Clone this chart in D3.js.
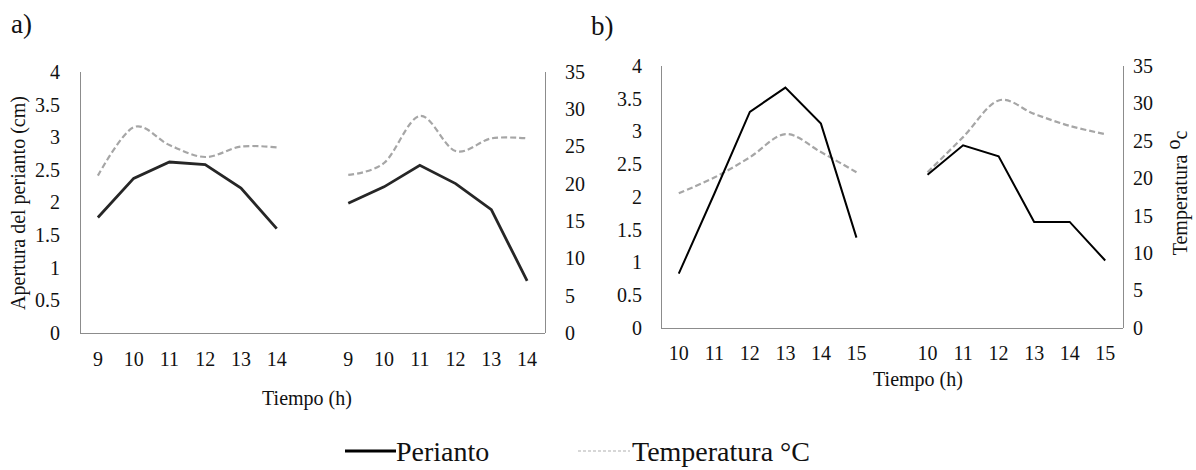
<!DOCTYPE html>
<html>
<head>
<meta charset="utf-8">
<script src="https://cdn.jsdelivr.net/npm/d3@7"></script>
</head>
<body style="margin:0; background:#fff">
<svg id="chart" width="1196" height="470"></svg>
<script>
// categories: two groups of hours separated by an empty slot
var hoursA = ['9', '10', '11', '12', '13', '14', '', '9b', '10b', '11b', '12b', '13b', '14b']
var hoursB = ['10', '11', '12', '13', '14', '15', '', '10b', '11b', '12b', '13b', '14b', '15b']

// panel a
var periantoA1 = [1.77, 2.37, 2.62, 2.58, 2.22, 1.60]
var periantoA2 = [1.99, 2.24, 2.57, 2.29, 1.89, 0.80]
var tempA1 = [21.1, 27.6, 25.2, 23.6, 25.0, 24.9]
var tempA2 = [21.2, 22.8, 29.1, 24.4, 26.1, 26.1]

// panel b
var periantoB1 = [0.83, 2.05, 3.30, 3.67, 3.12, 1.38]
var periantoB2 = [2.34, 2.79, 2.62, 1.62, 1.62, 1.03]
var tempB1 = [18.0, 20.1, 22.8, 25.9, 23.5, 20.8]
var tempB2 = [20.8, 25.5, 30.4, 28.6, 27.0, 25.9]

var leftTicks = [0, 0.5, 1, 1.5, 2, 2.5, 3, 3.5, 4]
var rightTicks = [0, 5, 10, 15, 20, 25, 30, 35]

var FONT = "'Liberation Serif'"
var svg = d3.select('#chart')

function styleAxis(s) {
    s.attr('font-family', FONT).attr('font-size', 20)
    s.select('.domain').attr('stroke', '#8c8c8c')
    s.selectAll('.tick line').remove()
    s.selectAll('.tick text').attr('fill', '#111').attr('font-family', FONT)
}

function addText(parent, x, y, size, str) {
    return parent.append('text')
        .attr('x', x)
        .attr('y', y)
        .attr('font-family', FONT)
        .attr('font-size', size)
        .attr('fill', '#111')
        .text(str)
}

function drawPanel(opt) {
    var x = d3.scaleBand().domain(opt.cats).range([opt.x0, opt.x1])
    var yL = d3.scaleLinear().domain([0, 4]).range([opt.yBottom, opt.yTop])
    var yR = d3.scaleLinear().domain([0, 35]).range([opt.yBottom, opt.yTop])
    var g = svg.append('g')

    // left axis
    g.append('g')
        .attr('transform', 'translate(' + opt.x0 + ',0)')
        .call(d3.axisLeft(yL).tickValues(leftTicks).tickSize(0).tickPadding(opt.padL).tickFormat(d3.format('')))
        .call(s => s.select('.domain').attr('d', 'M0.5,' + opt.yTop + 'V' + opt.yBottom))
        .call(styleAxis)

    // right axis
    g.append('g')
        .attr('transform', 'translate(' + opt.x1 + ',0)')
        .call(d3.axisRight(yR).tickValues(rightTicks).tickSize(0).tickPadding(opt.padR))
        .call(s => s.select('.domain').attr('d', 'M0.5,' + opt.yTop + 'V' + opt.yBottom))
        .call(styleAxis)

    // bottom axis
    g.append('g')
        .attr('transform', 'translate(0,' + opt.yBottom + ')')
        .call(d3.axisBottom(x).tickSize(0).tickPadding(opt.padB).tickFormat(d => d.replace('b', '')))
        .call(s => s.select('.domain').attr('d', 'M' + opt.x0 + ',0.5H' + opt.x1))
        .call(styleAxis)

    var xc = function(c) { return x(c) + x.bandwidth() / 2 }
    var groups = [opt.cats.slice(0, 6), opt.cats.slice(7)]

    var tempLine = d3.line()
        .x(d => xc(d.c))
        .y(d => yR(d.v))
        .curve(d3.curveCatmullRom.alpha(0))
    var perLine = d3.line()
        .x(d => xc(d.c))
        .y(d => yL(d.v))

    opt.temp.forEach(function(vals, k) {
        g.append('path')
            .datum(vals.map((v, i) => ({c: groups[k][i], v: v})))
            .attr('fill', 'none')
            .attr('stroke', '#a6a6a6')
            .attr('stroke-width', 2.2)
            .attr('stroke-dasharray', '6,3')
            .attr('d', tempLine)
    })
    opt.per.forEach(function(vals, k) {
        g.append('path')
            .datum(vals.map((v, i) => ({c: groups[k][i], v: v})))
            .attr('fill', 'none')
            .attr('stroke', opt.perColor)
            .attr('stroke-width', opt.perWidth)
            .attr('d', perLine)
    })

    addText(g, opt.labelX, opt.labelY, 27, opt.label)
    addText(g, opt.tiempoX, opt.tiempoY, 20, 'Tiempo (h)').attr('text-anchor', 'middle')
}

drawPanel({
    cats: hoursA, x0: 80, x1: 545, yTop: 72, yBottom: 333,
    padL: 20, padR: 20, padB: 19,
    per: [periantoA1, periantoA2], temp: [tempA1, tempA2],
    perColor: '#262626', perWidth: 2.8,
    label: 'a)', labelX: 11, labelY: 33, tiempoX: 307, tiempoY: 405
})
drawPanel({
    cats: hoursB, x0: 661, x1: 1123, yTop: 66, yBottom: 328,
    padL: 19, padR: 10, padB: 18,
    per: [periantoB1, periantoB2], temp: [tempB1, tempB2],
    perColor: '#000', perWidth: 2,
    label: 'b)', labelX: 591, labelY: 35, tiempoX: 918, tiempoY: 386
})

// y axis titles
addText(svg, 0, 0, 20, 'Apertura del perianto (cm)')
    .attr('transform', 'translate(25,203) rotate(-90)')
    .attr('text-anchor', 'middle')
var tt = addText(svg, 0, 0, 20, null)
    .attr('transform', 'translate(1187,193) rotate(-90)')
    .attr('text-anchor', 'middle')
tt.append('tspan').text('Temperatura ')
tt.append('tspan').attr('dy', -7).text('o')
tt.append('tspan').attr('dy', 7).text('c')

// legend
var legend = svg.append('g')
legend.append('line')
    .attr('x1', 345).attr('x2', 396).attr('y1', 451).attr('y2', 451)
    .attr('stroke', '#000').attr('stroke-width', 3)
addText(legend, 396, 461, 28, 'Perianto')
legend.append('line')
    .attr('x1', 578).attr('x2', 630).attr('y1', 451).attr('y2', 451)
    .attr('stroke', '#b0b0b0').attr('stroke-width', 1.2).attr('stroke-dasharray', '3,2')
addText(legend, 632, 461, 28, 'Temperatura °C')
</script>
</body>
</html>
